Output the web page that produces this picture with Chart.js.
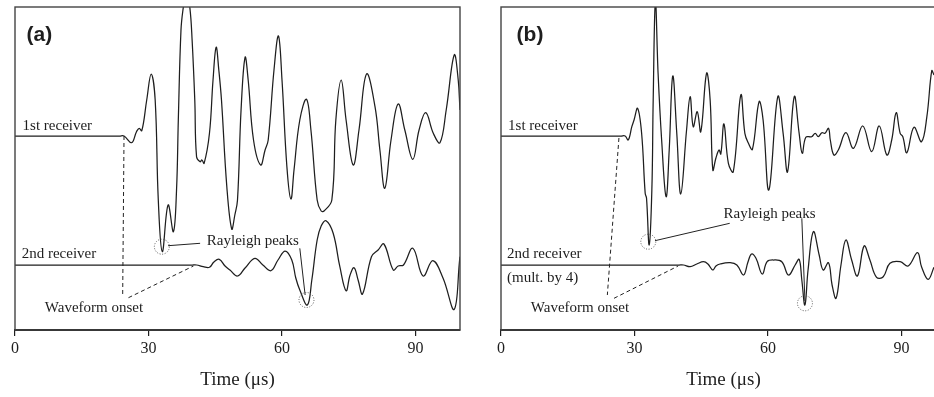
<!DOCTYPE html>
<html>
<head>
<meta charset="utf-8">
<script src="https://cdn.jsdelivr.net/npm/chart.js@4.4.1/dist/chart.umd.min.js"></script>
<style>
  html, body { margin: 0; padding: 0; background: #fff; overflow: hidden; width: 934px; height: 397px; }
  canvas { position: absolute; top: 0; }
  #panelA { left: 0; }
  #panelB { left: 486px; }
</style>
</head>
<body>
<canvas id="panelA" width="480" height="397"></canvas>
<canvas id="panelB" width="480" height="397"></canvas>
<script>
// x ticks (time, µs)
const TIME_TICKS = [0, 30, 60, 90];

// trace baselines (arbitrary vertical units, axis runs 0..323)
const BASE_FIRST = 194;
const BASE_SECOND = 65;

// (a) 1st receiver
const timeA1 = [
  0, 23.5, 24.5, 26.2, 27.3, 27.9, 28.5, 29.6, 30.6, 31.5, 32.2,
  33.1, 34.4, 35.6, 36.3, 36.7, 37.3, 37.8, 38.5, 39.3, 39.8,
  40.4, 40.8, 41.6, 42.0, 42.5, 43.7, 44.5, 45.2, 45.8, 46.4,
  47.6, 48.7, 49.4, 50.0, 50.8, 51.7, 52.4, 53.6, 55.2, 56.2,
  56.9, 58.2, 59.2, 60.0, 61.1, 62.0, 62.7, 64.0, 65.5, 66.5,
  67.9, 68.8, 69.5, 71.2, 72.1, 73.3, 74.4, 76.0, 77.3, 79.0,
  80.9, 82.0, 83.1, 84.5, 86.1, 87.6, 89.4, 90.8, 92.3, 94.0,
  95.5, 96.9, 98.7, 99.6, 100.0, 100.4
];
const ampA1 = [
  0, 0, 0, -6.7, 4.3, 7.7, 5.3, 36, 62, 36, -64,
  -115.7, -69, -95.7, -54, 16, 106, 128, 146, 128, 96,
  36, -20.7, -25.7, -24, -27.3, 2.7, 56, 88.7, 66, 36,
  -50.7, -93, -79, -64, 26, 78.7, 56, -4, -29, -14,
  -4, 66, 100, 56, -30.7, -63, -34, 16, 36.7, 6,
  -64, -75, -74.7, -64, 16, 56, 16, -29, 6, 62,
  29.3, -14, -52.3, -4, 32, 6, -23.3, 6, 23.3, 2.7,
  -6.7, 26, 81, 56, 26, 4.3
];

// (a) 2nd receiver
const timeA2 = [
  0, 39.8, 40.8, 42.3, 43.7, 44.7, 45.9, 47.2, 48.3, 50.0, 51.7,
  53.9, 55.7, 57.5, 59.1, 60.7, 62.2, 63.1, 64.0, 65.7, 66.7,
  67.9, 68.8, 69.9, 71.5, 73.0, 74.4, 75.3, 76.2, 77.1, 78.1,
  80.1, 81.6, 82.9, 85.0, 86.1, 87.3, 89.4, 91.7, 93.9, 96.2,
  98.7, 100.0, 100.4
];
const ampA2 = [
  0, 0, 0, -1.7, -2.3, 3, 5.7, -1, -5, -11, -3,
  6.7, 0, -5.7, 5, 14, 5, -13, -25, -40, -15,
  25, 39, 44.3, 31.7, -1.7, -25.7, -10, -2.7, -15, -29,
  8.3, 15, 21, -5, -1, 0, 16.7, -11, 4.3, -13.3,
  -44.3, 8.3, 15
];

// (b) 1st receiver
const timeB1 = [
  0, 27.0, 27.9, 28.6, 29.4, 29.9, 30.7, 31.6, 32.4, 32.7, 33.3,
  33.9, 34.2, 34.7, 35.3, 36.1, 37.1, 37.8, 38.6, 39.5, 40.4,
  41.7, 42.5, 43.2, 44.1, 44.9, 46.2, 47.0, 47.6, 48.3, 49.0,
  49.4, 50.1, 51.1, 52.2, 53.9, 54.8, 55.6, 56.5, 58.0, 58.9,
  60.2, 62.2, 63.4, 64.4, 65.9, 67.0, 67.7, 68.5, 69.8, 70.6,
  71.3, 72.1, 72.8, 73.6, 74.0, 74.8, 75.8, 77.5, 79.2, 81.3,
  83.3, 85.0, 86.7, 87.8, 88.8, 89.7, 90.3, 91.2, 92.8, 94.5,
  95.7, 96.8, 97.3
];
const ampB1 = [
  0, 0, 0, -4, 9.3, 16, 27.7, 2.7, -57.3, -62, -109,
  -54, 36, 135, 62.7, -4, -60.7, -14, 60, 2.7, -58,
  6, 39.3, 9.3, 24.3, 4.3, 62.7, 36, -34, -22, -14,
  -18, 12, -27.3, -35.7, 41, 2.7, -7.3, -13.3, 34.3, 16,
  -54, 39.3, 2.7, -35.7, 39.3, 2.7, -17.3, -1.3, -0.7, 2.7,
  -0.7, 3.3, 2.7, 7.7, -4, -19, -14, 3.3, -12.3, 10,
  -15.7, 10, -19, -4, 23.3, 2.7, -0.7, -16.7, 8.7, -5.7,
  19.3, 65.3, 61
];

// (b) 2nd receiver (mult. by 4)
const timeB2 = [
  0, 40.0, 41.0, 42.5, 44.0, 45.5, 46.5, 47.6, 48.3, 49.2, 51.5,
  53.0, 54.5, 55.5, 56.3, 57.3, 58.7, 59.8, 61.2, 63.1, 64.6,
  66.1, 67.0, 67.6, 68.3, 69.0, 70.2, 71.5, 72.4, 73.6, 74.4,
  75.3, 76.4, 77.5, 78.8, 80.1, 81.6, 82.9, 84.4, 85.9, 87.4,
  89.7, 91.5, 93.6, 94.5, 96.0, 97.3
];
const ampB2 = [
  0, 0, 0, -1.7, 1, 3.3, 1, -5, -1, 1, 2.3,
  0, -10, 3, 11, 6.7, -9, 3.3, 5, 3.3, -10,
  0, 5.7, -15, -40, -5, 33.3, 10, -5, 2.3, -20,
  -33.3, 0, 25, 5, -11, 19, 5, -12.3, -11.7, 1.7,
  3.3, -1, 12.3, -1.7, -14.3, -2.3
];

const SERIF = '"Liberation Serif", "Times New Roman", serif';
const INK = '#1e1e1e';

function trace(times, amps, base) {
  return {
    data: times.map((t, i) => ({ x: t, y: base + amps[i] })),
    borderColor: INK,
    borderWidth: 1.25,
    pointRadius: 0,
    tension: 0.4,
    fill: false
  };
}

// annotation layout per panel, in data units (t = µs, v = vertical units)
const notesA = {
  texts: [
    { s: '(a)', t: 2.6, v: 289.5, font: 'bold 21px "Liberation Sans", Arial, sans-serif' },
    { s: '1st receiver', t: 1.7, v: 200, font: '15px ' + SERIF },
    { s: '2nd receiver', t: 1.5, v: 72, font: '15px ' + SERIF },
    { s: 'Waveform onset', t: 6.7, v: 18.5, font: '15px ' + SERIF },
    { s: 'Rayleigh peaks', t: 43.1, v: 85, font: '15px ' + SERIF }
  ],
  dashed: [
    [24.5, 194, 24.2, 35],
    [25.5, 32.3, 40.1, 64]
  ],
  leaders: [
    [34.4, 84.3, 41.6, 86.7],
    [64.0, 81.7, 65.2, 35]
  ],
  circles: [[33.0, 83.3], [65.5, 30]]
};
const notesB = {
  texts: [
    { s: '(b)', t: 3.5, v: 289.5, font: 'bold 21px "Liberation Sans", Arial, sans-serif' },
    { s: '1st receiver', t: 1.6, v: 200, font: '15px ' + SERIF },
    { s: '2nd receiver', t: 1.35, v: 72, font: '15px ' + SERIF },
    { s: '(mult. by 4)', t: 1.35, v: 48, font: '15px ' + SERIF },
    { s: 'Waveform onset', t: 6.7, v: 18.5, font: '15px ' + SERIF },
    { s: 'Rayleigh peaks', t: 50.0, v: 111.7, font: '15px ' + SERIF }
  ],
  dashed: [
    [26.5, 192, 23.9, 35],
    [25.4, 31.7, 39.8, 64]
  ],
  leaders: [
    [34.6, 89.3, 51.4, 106.7],
    [67.6, 111.7, 68.3, 29]
  ],
  circles: [[33.1, 88.3], [68.3, 26.7]]
};

function notesPlugin(notes) {
  return {
    id: 'notes',
    afterDatasetsDraw(chart) {
      const { ctx, chartArea: a, scales: { x, y } } = chart;
      const px = t => x.getPixelForValue(t);
      const py = v => y.getPixelForValue(v);
      ctx.save();
      // frame
      ctx.strokeStyle = '#444';
      ctx.lineWidth = 1.4;
      ctx.strokeRect(a.left, a.top, a.right - a.left, a.bottom - a.top);

      // dashed onset lines
      ctx.strokeStyle = '#222';
      ctx.lineWidth = 1;
      ctx.setLineDash([4, 3]);
      notes.dashed.forEach(([t1, v1, t2, v2]) => {
        ctx.beginPath();
        ctx.moveTo(px(t1), py(v1));
        ctx.lineTo(px(t2), py(v2));
        ctx.stroke();
      });

      // leader lines
      ctx.setLineDash([]);
      notes.leaders.forEach(([t1, v1, t2, v2]) => {
        ctx.beginPath();
        ctx.moveTo(px(t1), py(v1));
        ctx.lineTo(px(t2), py(v2));
        ctx.stroke();
      });

      // dotted circles
      ctx.strokeStyle = '#555';
      ctx.setLineDash([1, 1.6]);
      notes.circles.forEach(([t, v]) => {
        ctx.beginPath();
        ctx.arc(px(t), py(v), 7.5, 0, Math.PI * 2);
        ctx.stroke();
      });
      ctx.setLineDash([]);

      // labels
      ctx.fillStyle = INK;
      ctx.textBaseline = 'alphabetic';
      ctx.textAlign = 'left';
      notes.texts.forEach(n => {
        ctx.font = n.font;
        ctx.fillText(n.s, px(n.t), py(n.v));
      });
      ctx.restore();
    }
  };
}

function makePanel(id, datasets, notes) {
  return new Chart(document.getElementById(id), {
    type: 'line',
    data: { datasets },
    options: {
      responsive: false,
      animation: false,
      events: [],
      layout: { padding: { left: 15, top: 7, right: 20, bottom: 0 } },
      plugins: { legend: { display: false }, tooltip: { enabled: false } },
      scales: {
        x: {
          type: 'linear',
          min: 0,
          max: 100,
          afterBuildTicks: s => { s.ticks = TIME_TICKS.map(v => ({ value: v })); },
          afterFit: s => { s.height = 67; },
          ticks: { color: INK, font: { family: SERIF, size: 16 }, padding: 3, maxRotation: 0 },
          grid: { drawOnChartArea: false, drawTicks: true, tickLength: 6, color: INK, lineWidth: 1.2 },
          border: { display: true, color: INK, width: 2 },
          title: {
            display: true,
            text: 'Time (μs)',
            color: INK,
            font: { family: SERIF, size: 19 },
            padding: { top: 0, bottom: 6 }
          }
        },
        y: { display: false, min: 0, max: 323 }
      }
    },
    plugins: [notesPlugin(notes)]
  });
}

makePanel('panelA', [
  trace(timeA1, ampA1, BASE_FIRST),
  trace(timeA2, ampA2, BASE_SECOND)
], notesA);

makePanel('panelB', [
  trace(timeB1, ampB1, BASE_FIRST),
  trace(timeB2, ampB2, BASE_SECOND)
], notesB);
</script>
</body>
</html>
